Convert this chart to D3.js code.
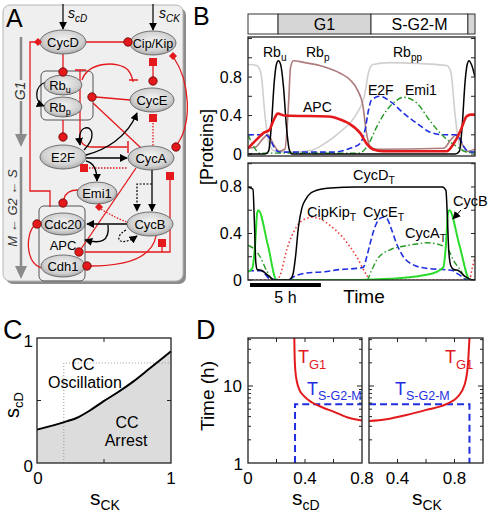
<!DOCTYPE html>
<html><head><meta charset="utf-8">
<script src="https://cdn.jsdelivr.net/npm/d3@7"></script>
<style>
body{margin:0;background:#fff}
svg{display:block}
text{font-family:"Liberation Sans",Arial,Helvetica,sans-serif}
</style>
</head><body>
<svg id="fig" width="488" height="516"></svg>
<script>
// ================= DATA =================
// Panel B – phase bar
const phaseNames = ["", "G1", "S-G2-M", ""];
const phaseEdges = [0, 2.12, 8.67, 15.5, 16];
const yTicksB = [0, 0.4, 0.8];
// Panel B top – [time (h), level]
const rbU = [[0,0],[1.2,0],[1.45,0.03],[1.65,0.3],[1.85,0.75],[2.0,0.93],[2.14,0.97],[2.3,0.93],[2.5,0.7],[2.7,0.3],[2.9,0.05],[3.1,0],[14.6,0],[14.9,0.03],[15.1,0.3],[15.3,0.75],[15.45,0.93],[15.58,0.97],[15.75,0.93],[16,0.8]];
const rbP = [[0,0.06],[0.5,0.07],[1.0,0.15],[1.4,0.2],[1.8,0.1],[2.2,0.03],[2.6,0.05],[2.85,0.5],[3.0,0.9],[3.2,0.97],[4,0.95],[5.3,0.91],[6.5,0.84],[7.2,0.77],[7.7,0.67],[8.1,0.5],[8.35,0.22],[8.6,0.08],[9,0.05],[13.8,0.06],[14.3,0.15],[14.7,0.2],[15.1,0.1],[15.5,0.03],[16,0.05]];
const rbPP = [[0,0.93],[0.6,0.92],[0.9,0.85],[1.2,0.4],[1.5,0.1],[1.9,0.03],[3,0.02],[4.5,0.04],[5.3,0.1],[6.5,0.23],[7.66,0.42],[8.2,0.6],[8.5,0.85],[8.8,0.93],[10,0.95],[12,0.94],[14,0.92],[14.3,0.85],[14.6,0.4],[14.9,0.1],[15.3,0.03],[16,0.02]];
const apc = [[0,0.06],[0.6,0.15],[1.1,0.22],[1.5,0.25],[1.8,0.35],[2.1,0.42],[2.6,0.4],[5.7,0.39],[6.5,0.36],[7.1,0.32],[7.9,0.22],[8.4,0.1],[8.8,0.05],[9.5,0.03],[14,0.03],[14.5,0.11],[15.0,0.25],[15.4,0.39],[15.7,0.41],[16,0.41]];
const e2f = [[0,0.2],[1.2,0.2],[1.5,0.17],[1.8,0.08],[2.2,0.02],[6,0.02],[7.2,0.06],[7.9,0.11],[8.25,0.25],[8.5,0.46],[8.7,0.56],[9.3,0.6],[10,0.55],[11,0.42],[11.9,0.32],[12.8,0.23],[13.8,0.2],[14.6,0.2],[14.9,0.17],[15.2,0.08],[15.6,0.02],[16,0.02]];
const emi1 = [[0,0.2],[0.4,0.08],[0.8,0.01],[7.8,0.01],[8.4,0.08],[9.1,0.29],[9.8,0.46],[10.5,0.56],[10.95,0.59],[11.9,0.53],[12.8,0.35],[13.8,0.18],[14.7,0.08],[15.4,0.02],[16,0.01]];
// Panel B bottom
const cycDT = [[0,0.8],[0.35,0.78],[0.45,0.5],[0.55,0.15],[0.65,0.09],[1.0,0.08],[1.3,0.05],[1.6,0.02],[1.8,0],[2.9,0],[3.15,0.04],[3.35,0.2],[3.55,0.45],[3.8,0.62],[4.1,0.7],[4.6,0.76],[5.8,0.79],[7.7,0.8],[13.7,0.8],[13.95,0.77],[14.05,0.55],[14.15,0.25],[14.3,0.12],[14.5,0.09],[14.85,0.08],[15.2,0.04],[15.6,0.01],[16,0]];
const cipKipT = [[0,0],[2.0,0],[2.26,0.04],[2.73,0.26],[3.43,0.46],[4.14,0.53],[4.6,0.54],[5.0,0.53],[5.78,0.47],[6.72,0.36],[7.66,0.2],[8.37,0.04],[8.6,0],[15.6,0],[15.8,0.1],[16,0.2]];
const cycET = [[0,0.08],[0.9,0.08],[1.2,0.05],[1.55,0.01],[2.73,0],[3.43,0.04],[4.14,0.06],[5.31,0.07],[6.49,0.09],[7.66,0.1],[8.13,0.11],[8.37,0.2],[8.6,0.31],[8.96,0.46],[9.31,0.53],[9.54,0.54],[9.78,0.53],[10.13,0.43],[10.48,0.31],[10.95,0.2],[11.66,0.13],[12.6,0.1],[13.77,0.09],[14.48,0.08],[14.7,0.06],[15.06,0.03],[15.4,0],[16,0]];
const cycAT = [[0,0.3],[0.4,0.27],[0.85,0.2],[1.32,0.08],[1.79,0],[8.37,0],[8.7,0.08],[9.07,0.17],[10,0.26],[10.95,0.29],[11.89,0.31],[12.6,0.32],[13.3,0.31],[13.77,0.29],[14.12,0.26],[14.48,0.17],[14.95,0.09],[15.4,0.01],[16,0]];
const cycBT = [[0,0.07],[0.3,0.1],[0.5,0.3],[0.65,0.58],[0.73,0.6],[1.4,0.3],[2.02,0],[7.66,0],[10,0.01],[12.36,0.04],[13.3,0.07],[13.77,0.11],[13.95,0.3],[14.1,0.58],[14.19,0.6],[14.9,0.3],[15.65,0],[16,0]];
const scaleBarHours = 5;
// Panel C – boundary between oscillation and arrest
const bndSCK = [0, 0.22, 0.295, 0.395, 0.495, 0.595, 0.72, 0.845, 1];
const bndSCD = [0.267, 0.333, 0.36, 0.42, 0.493, 0.56, 0.653, 0.76, 0.893];
const cutSCK = 0.2, cutSCD = 0.8;
// Panel D – periods (h)
const dLeftSCD = [0.325, 0.327, 0.332, 0.345, 0.36, 0.39, 0.45, 0.52, 0.6, 0.7, 0.8];
const dLeftTG1 = [42, 25, 16, 11, 9, 7.5, 6.1, 5.3, 4.65, 3.9, 3.55];
const dLeftSG2M = [[0.33,1],[0.33,5.8],[0.8,5.8]];
const dRightSCK = [0.2, 0.322, 0.462, 0.602, 0.742, 0.824, 0.87, 0.894, 0.905];
const dRightTG1 = [3.5, 3.7, 4.2, 4.9, 5.8, 7.3, 10.3, 18.7, 42];
const dRightSG2M = [[0.2,5.8],[0.905,5.8],[0.905,1]];

// ================= DRAW =================
const svg = d3.select('#fig');
const RED = '#e3191c', BLUE = '#1f2fe0', GREEN = '#249a24', LGREEN = '#2bdc2b';
const defs = svg.append('defs');
const rg = defs.append('radialGradient').attr('id','ng').attr('cx','50%').attr('cy','42%').attr('r','60%');
rg.append('stop').attr('offset','0%').attr('stop-color','#f4f4f4');
rg.append('stop').attr('offset','70%').attr('stop-color','#d0d0d0');
rg.append('stop').attr('offset','100%').attr('stop-color','#a4a4a4');
defs.append('marker').attr('id','ah').attr('viewBox','0 0 10 10').attr('refX',9).attr('refY',5)
  .attr('markerWidth',8).attr('markerHeight',8).attr('markerUnits','userSpaceOnUse').attr('orient','auto')
  .append('path').attr('d','M0,0 L10,5 L0,10 z').attr('fill','#000');

function sublabel(g, x, y, main, sub, o = {}) {
  const size = o.size || 13;
  const t = g.append('text').attr('x', x).attr('y', y).attr('font-size', size)
    .attr('fill', o.color || '#000').attr('text-anchor', o.anchor || 'start');
  if (o.italic) t.attr('font-style', 'italic');
  if (o.transform) t.attr('transform', o.transform);
  t.append('tspan').text(main);
  if (sub) t.append('tspan').attr('dy', o.subDy || size * 0.3).attr('font-size', o.subSize || size * 0.72).text(sub);
  return t;
}

// ---------- Panel A (network diagram) ----------
const A = svg.append('g');
A.append('rect').attr('x',6).attr('y',8).attr('width',180).attr('height',276).attr('rx',7).attr('fill','#8c8c8c');
A.append('rect').attr('x',3).attr('y',5).attr('width',180).attr('height',276).attr('rx',7).attr('fill','#efefef').attr('stroke','#b4b4b4');
A.append('text').attr('x',6).attr('y',27).attr('font-size',25).text('A');
const gc = '#8a8a8a';
A.append('line').attr('x1',21).attr('x2',21).attr('y1',37).attr('y2',80).attr('stroke',gc).attr('stroke-width',2.5);
A.append('line').attr('x1',21).attr('x2',21).attr('y1',101).attr('y2',136).attr('stroke',gc).attr('stroke-width',2.5);
A.append('path').attr('d','M15,134 L27,134 L21,147 Z').attr('fill',gc);
A.append('text').attr('transform','translate(25,91) rotate(-90)').attr('text-anchor','middle').attr('font-size',14).attr('font-style','italic').attr('fill','#333').text('G1');
A.append('line').attr('x1',21).attr('x2',21).attr('y1',157).attr('y2',268).attr('stroke',gc).attr('stroke-width',2.5);
A.append('path').attr('d','M15,266 L27,266 L21,279 Z').attr('fill',gc);
A.append('text').attr('transform','translate(17,208) rotate(-90)').attr('text-anchor','middle').attr('font-size',13).attr('font-style','italic').attr('fill','#333').text('M \u2190 G2 \u2190 S');
A.append('line').attr('x1',63).attr('x2',63).attr('y1',4).attr('y2',29).attr('stroke','#000').attr('stroke-width',1.2).attr('marker-end','url(#ah)');
sublabel(A, 68, 18, 's', 'cD', {size:14, italic:true, subSize:10});
A.append('line').attr('x1',153).attr('x2',153).attr('y1',4).attr('y2',30).attr('stroke','#000').attr('stroke-width',1.2).attr('marker-end','url(#ah)');
sublabel(A, 159, 18, 's', 'CK', {size:14, italic:true, subSize:10});
A.append('rect').attr('x',41).attr('y',71).attr('width',52).attr('height',49).attr('rx',5).attr('fill','none').attr('stroke','#555');
A.append('rect').attr('x',39).attr('y',206).attr('width',46).attr('height',75).attr('rx',5).attr('fill','none').attr('stroke','#555');
const redSolid = [
  'M86,42 H124', 'M50,207 V191 H30 V42 H35', 'M63,54 V68',
  'M80,70 V135 Q80,147 92,147 H127', 'M82,80 C88,62 118,60 128,70 Q132,75 133,82',
  'M130,100 L96,97', 'M93,103 L141,148', 'M174,58 C190,82 192,122 178,143',
  'M153,62 V79', 'M63,120 V134', 'M78,190 Q66,190 64,199', 'M136,168 L81,249',
  'M90,266 C125,266 152,258 156,236', 'M85,252 H170 V180', 'M162,252 V247',
  'M41,268 C25,262 26,234 34,226'
];
A.selectAll('path.rs').data(redSolid).join('path').attr('class','rs').attr('d',d=>d)
  .attr('fill','none').attr('stroke',RED).attr('stroke-width',1.3);
const redDot = ['M153,123 V146', 'M89,168 H128', 'M101,209 Q115,218 127,222'];
A.selectAll('path.rd').data(redDot).join('path').attr('class','rd').attr('d',d=>d)
  .attr('fill','none').attr('stroke',RED).attr('stroke-width',1.3).attr('stroke-dasharray','1.5,1.5');
const blackSolid = ['M86,158 H127', 'M86,155 C105,150 127,138 137,113', 'M86,161 C95,163 97,171 97,181',
  'M84,150 C96,138 93,126 85,128 C79,130 79,138 80,145', 'M46,82 C34,86 34,102 44,106',
  'M152,170 V211', 'M127,224 H87', 'M108,225 C110,242 100,244 85,240'];
A.selectAll('path.bs').data(blackSolid).join('path').attr('class','bs').attr('d',d=>d)
  .attr('fill','none').attr('stroke','#000').attr('stroke-width',1.3).attr('marker-end','url(#ah)');
const blackDot = ['M152,184 H137 V211', 'M126,230 C112,238 120,248 137,236'];
A.selectAll('path.bd').data(blackDot).join('path').attr('class','bd').attr('d',d=>d)
  .attr('fill','none').attr('stroke','#000').attr('stroke-width',1.2).attr('stroke-dasharray','2,1.5').attr('marker-end','url(#ah)');
A.append('path').attr('d','M128,141 V153 M129,80 H138 M75,70 H86').attr('stroke',RED).attr('stroke-width',1.5);
const nodes = [
  {n:'CycD', x:63, y:42, rx:23}, {n:'Cip/Kip', x:153, y:43, rx:23},
  {n:'Rb', s:'u', x:63, y:85, rx:19, ry:10}, {n:'Rb', s:'p', x:63, y:107, rx:19, ry:10},
  {n:'CycE', x:152, y:100, rx:22}, {n:'E2F', x:63, y:157, rx:23}, {n:'CycA', x:151, y:158, rx:23},
  {n:'Emi1', x:97, y:193, rx:20, ry:11}, {n:'Cdc20', x:63, y:224, rx:22, ry:11},
  {n:'CycB', x:150, y:224, rx:23}, {n:'Cdh1', x:63, y:266, rx:22, ry:11}
];
nodes.forEach(d => {
  A.append('ellipse').attr('cx',d.x).attr('cy',d.y).attr('rx',d.rx).attr('ry',d.ry||12)
    .attr('fill','url(#ng)').attr('stroke','#555').attr('stroke-width',0.8);
  const fs = d.n === 'Cip/Kip' ? 12.5 : 13;
  if (d.s) sublabel(A, d.x - 3, d.y + 5, d.n, d.s, {size:fs, anchor:'middle', subSize:9, subDy:3});
  else A.append('text').attr('x',d.x).attr('y',d.y+4.5).attr('text-anchor','middle').attr('font-size',fs).text(d.n);
});
A.append('text').attr('x',63).attr('y',250).attr('text-anchor','middle').attr('font-size',13).text('APC');
const circles = [[128,42],[63,72],[92,97],[153,81],[176,147],[63,137],[63,203],[79,252],[87,266],[37,224]];
A.selectAll('circle.tc').data(circles).join('circle').attr('class','tc').attr('cx',d=>d[0]).attr('cy',d=>d[1]).attr('r',4.2)
  .attr('fill',RED).attr('stroke','#600').attr('stroke-width',0.8);
const squares = [[153,62],[153,118],[84,168],[170,176],[162,243]];
A.selectAll('rect.ts').data(squares).join('rect').attr('class','ts').attr('x',d=>d[0]-4).attr('y',d=>d[1]-4).attr('width',8).attr('height',8).attr('fill',RED);
const diamonds = [[38,42],[173,56],[99,207]];
A.selectAll('path.td').data(diamonds).join('path').attr('class','td').attr('d',d=>`M${d[0]},${d[1]-4} L${d[0]+4},${d[1]} L${d[0]},${d[1]+4} L${d[0]-4},${d[1]} Z`).attr('fill',RED);

// ---------- Panel B ----------
const B = svg.append('g');
B.append('text').attr('x',193).attr('y',25).attr('font-size',25).text('B');
const xB = d3.scaleLinear().domain([0,16]).range([248,475]);
const yT = d3.scaleLinear().domain([-0.02,1.216]).range([156,37]);
const yL = d3.scaleLinear().domain([0,1.006]).range([280,163]);
const segs = phaseNames.map((n,i)=>({n, a:phaseEdges[i], b:phaseEdges[i+1], i}));
B.selectAll('rect.ph').data(segs).join('rect').attr('class','ph').attr('x',d=>xB(d.a)).attr('y',14)
  .attr('width',d=>xB(d.b)-xB(d.a)).attr('height',20).attr('fill',d=>d.i%2? '#d6d6d6':'#fff').attr('stroke','#333').attr('stroke-width',1);
B.selectAll('text.ph').data(segs.filter(d=>d.n)).join('text').attr('class','ph').attr('x',d=>(xB(d.a)+xB(d.b))/2).attr('y',30)
  .attr('text-anchor','middle').attr('font-size',16).text(d=>d.n);

function plotFrame(y, id, minorMax) {
  const [x0,x1] = xB.range(), [yb,yt] = y.range();
  defs.append('clipPath').attr('id',id).append('rect').attr('x',x0).attr('y',yt).attr('width',x1-x0).attr('height',yb-yt);
  const tv = d3.range(0, minorMax, 0.2);
  B.selectAll(null).data(tv).join('path').attr('d',v=>`M${x0},${y(v)} h4 M${x1},${y(v)} h-4`).attr('stroke','#222').attr('stroke-width',1);
  B.selectAll(null).data(yTicksB).join('text').attr('x',x0-6).attr('y',v=>y(v)+5.5).attr('text-anchor','end').attr('font-size',16).text(v=>v);
}
plotFrame(yT, 'clipT', 1.21);
plotFrame(yL, 'clipL', 1.01);

function series(y, clip, data, color, w, dash) {
  const line = d3.line().x(d=>xB(d[0])).y(d=>y(d[1])).curve(d3.curveMonotoneX);
  const p = B.append('path').attr('d',line(data)).attr('fill','none').attr('stroke',color).attr('stroke-width',w).attr('clip-path',`url(#${clip})`);
  if (dash) p.attr('stroke-dasharray',dash);
}
series(yT,'clipT',rbPP,'#cfcfcf',1.6);
series(yT,'clipT',rbP,'#ad7b7b',1.6);
series(yT,'clipT',e2f,BLUE,1.6,'6,3');
series(yT,'clipT',emi1,GREEN,1.4,'6,2.5,1.5,2.5');
series(yT,'clipT',rbU,'#000',1.5);
series(yT,'clipT',apc,RED,2.6);
series(yL,'clipL',cipKipT,'#f03838',1.6,'1.5,2.5');
series(yL,'clipL',cycET,BLUE,1.6,'6,3');
series(yL,'clipL',cycAT,GREEN,1.4,'6,2.5,1.5,2.5');
series(yL,'clipL',cycBT,LGREEN,2);
series(yL,'clipL',cycDT,'#000',1.5);
[yT,yL].forEach(y=>{
  const [x0,x1]=xB.range(), [yb,yt]=y.range();
  B.append('rect').attr('x',x0).attr('y',yt).attr('width',x1-x0).attr('height',yb-yt).attr('fill','none').attr('stroke','#222').attr('stroke-width',1.3);
});
sublabel(B, 263, 57, 'Rb', 'u', {size:14});
sublabel(B, 306, 57, 'Rb', 'p', {size:14});
sublabel(B, 393, 57, 'Rb', 'pp', {size:14});
B.append('text').attr('x',303).attr('y',112).attr('font-size',14).text('APC');
B.append('text').attr('x',368).attr('y',95).attr('font-size',14).text('E2F');
B.append('text').attr('x',405).attr('y',95).attr('font-size',14).text('Emi1');
sublabel(B, 353, 180, 'CycD', 'T', {size:14.5});
sublabel(B, 307, 217, 'CipKip', 'T', {size:14.5});
sublabel(B, 363, 217, 'CycE', 'T', {size:14.5});
sublabel(B, 405, 238, 'CycA', 'T', {size:14.5});
B.append('text').attr('x',453).attr('y',206).attr('font-size',14.5).text('CycB');
B.append('line').attr('x1',461).attr('y1',210).attr('x2',453).attr('y2',219).attr('stroke','#000').attr('stroke-width',1).attr('marker-end','url(#ah)');
B.append('line').attr('x1',xB(0.14)).attr('x2',xB(0.14+scaleBarHours)).attr('y1',285).attr('y2',285).attr('stroke','#000').attr('stroke-width',4);
B.append('text').attr('x',(xB(0.14)+xB(0.14+scaleBarHours))/2).attr('y',303).attr('text-anchor','middle').attr('font-size',16).text(scaleBarHours+' h');
B.append('text').attr('x',364).attr('y',303).attr('text-anchor','middle').attr('font-size',19).text('Time');
B.append('text').attr('transform','translate(213,147) rotate(-90)').attr('text-anchor','middle').attr('font-size',18).text('[Proteins]');

// ---------- Panel C ----------
const C = svg.append('g');
C.append('text').attr('x',3).attr('y',339).attr('font-size',27).text('C');
const xC = d3.scaleLinear().domain([0,1]).range([37,171]);
const yC = d3.scaleLinear().domain([0,1]).range([463,338]);
const bnd = bndSCK.map((s,i)=>[s,bndSCD[i]]);
C.append('path').attr('d',d3.area().x(d=>xC(d[0])).y0(yC(0)).y1(d=>yC(d[1])).curve(d3.curveMonotoneX)(bnd)).attr('fill','#dcdcdc');
C.append('path').attr('d',`M${xC(cutSCK)},${yC(0)} V${yC(cutSCD)} H${xC(1)}`).attr('fill','none').attr('stroke','#999').attr('stroke-width',1).attr('stroke-dasharray','1,2');
C.append('path').attr('d',d3.line().x(d=>xC(d[0])).y(d=>yC(d[1])).curve(d3.curveMonotoneX)(bnd)).attr('fill','none').attr('stroke','#000').attr('stroke-width',2);
C.append('rect').attr('x',37).attr('y',338).attr('width',134).attr('height',125).attr('fill','none').attr('stroke','#222').attr('stroke-width',1.3);
C.append('path').attr('d',`M${xC(0.5)},${yC(0)} v-4 M${xC(0.5)},${yC(1)} v4 M${xC(0)},${yC(0.5)} h4 M${xC(1)},${yC(0.5)} h-4`).attr('stroke','#222');
C.append('text').attr('x',33).attr('y',347).attr('text-anchor','end').attr('font-size',17).text('1');
C.append('text').attr('x',33).attr('y',472).attr('text-anchor','end').attr('font-size',17).text('0');
C.append('text').attr('x',xC(0)+1).attr('y',484).attr('text-anchor','middle').attr('font-size',17).text('0');
C.append('text').attr('x',xC(1)).attr('y',484).attr('text-anchor','middle').attr('font-size',17).text('1');
C.append('text').attr('x',83).attr('y',370).attr('text-anchor','middle').attr('font-size',16).text('CC');
C.append('text').attr('x',85).attr('y',388).attr('text-anchor','middle').attr('font-size',16).text('Oscillation');
C.append('text').attr('x',127).attr('y',428).attr('text-anchor','middle').attr('font-size',16).text('CC');
C.append('text').attr('x',126).attr('y',446).attr('text-anchor','middle').attr('font-size',16).text('Arrest');
sublabel(C, 90, 505, 's', 'CK', {size:21, subSize:14, subDy:5});
sublabel(C, 0, 0, 's', 'cD', {size:20, subSize:13, subDy:4, anchor:'middle', transform:'translate(19,405) rotate(-90)'});

// ---------- Panel D ----------
const D = svg.append('g');
D.append('text').attr('x',196).attr('y',339).attr('font-size',27).text('D');
const yD = d3.scaleLog().domain([1,42]).range([463,338]);
const xDL = d3.scaleLinear().domain([0,0.8]).range([248,362]);
const xDR = d3.scaleLinear().domain([0.2,1.0]).range([369,483]);
const minorT = [2,3,4,5,6,7,8,9,20,30,40];
function dPanel(x, ticks, labels, tg1, sg2m, tg1Lbl, sLbl) {
  const [x0,x1] = x.range(), [yb,yt] = yD.range();
  const id = 'cD' + x0;
  defs.append('clipPath').attr('id',id).append('rect').attr('x',x0).attr('y',yt).attr('width',x1-x0).attr('height',yb-yt);
  D.append('path').attr('d',d3.line().x(d=>x(d[0])).y(d=>yD(d[1]))(sg2m)).attr('fill','none').attr('stroke',BLUE).attr('stroke-width',2).attr('stroke-dasharray','7,4').attr('clip-path',`url(#${id})`);
  D.append('path').attr('d',d3.line().x(d=>x(d[0])).y(d=>yD(d[1])).curve(d3.curveMonotoneX)(tg1)).attr('fill','none').attr('stroke',RED).attr('stroke-width',2).attr('clip-path',`url(#${id})`);
  D.append('rect').attr('x',x0).attr('y',yt).attr('width',x1-x0).attr('height',yb-yt).attr('fill','none').attr('stroke','#222').attr('stroke-width',1.3);
  D.selectAll(null).data(minorT).join('path').attr('d',v=>`M${x0},${yD(v)} h3 M${x1},${yD(v)} h-3`).attr('stroke','#222');
  D.append('path').attr('d',`M${x0},${yD(10)} h5 M${x1},${yD(10)} h-5`).attr('stroke','#222');
  D.selectAll(null).data(ticks).join('path').attr('d',v=>`M${x(v)},${yb} v-4 M${x(v)},${yt} v4`).attr('stroke','#222');
  D.selectAll(null).data(labels).join('text').attr('x',v=>x(v)).attr('y',484).attr('text-anchor','middle').attr('font-size',17).text(v=>v);
  sublabel(D, tg1Lbl[0], tg1Lbl[1], 'T', 'G1', {size:18, subSize:13, subDy:6, color:RED});
  sublabel(D, sLbl[0], sLbl[1], 'T', 'S-G2-M', {size:18, subSize:12.5, subDy:5, color:BLUE});
}
dPanel(xDL, [0.2,0.4,0.6], [0,0.4,0.8], dLeftSCD.map((s,i)=>[s,dLeftTG1[i]]), dLeftSG2M, [298,363], [307,395]);
dPanel(xDR, [0.4,0.6,0.8], [0.4,0.8], dRightSCK.map((s,i)=>[s,dRightTG1[i]]), dRightSG2M, [445,363], [395,395]);
D.append('text').attr('x',242).attr('y',392).attr('text-anchor','end').attr('font-size',17).text('10');
D.append('text').attr('x',243).attr('y',470).attr('text-anchor','end').attr('font-size',17).text('1');
D.append('text').attr('transform','translate(214,396) rotate(-90)').attr('text-anchor','middle').attr('font-size',19).text('Time (h)');
sublabel(D, 292, 505, 's', 'cD', {size:21, subSize:14, subDy:5});
sublabel(D, 412, 505, 's', 'CK', {size:21, subSize:14, subDy:5});
</script>
</body></html>
